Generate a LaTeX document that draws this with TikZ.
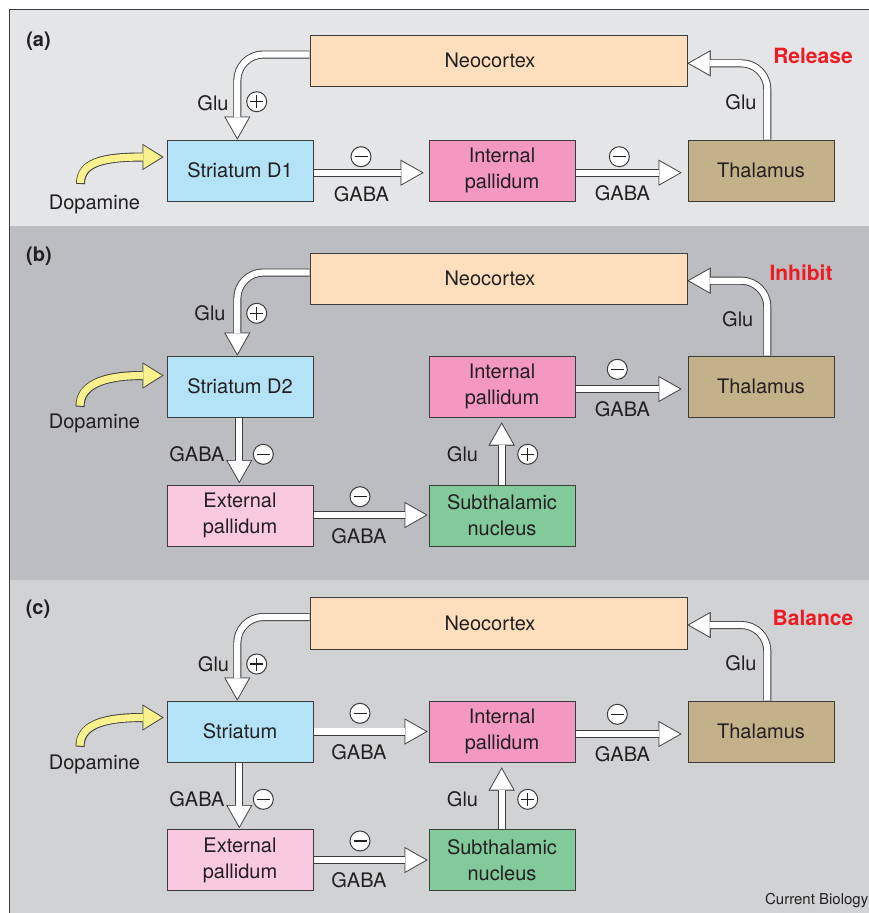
\documentclass[tikz,border=0pt]{standalone}
\usepackage{fontspec}
\setmainfont{TeX Gyre Heros}
\usetikzlibrary{arrows.meta}
\definecolor{txt}{HTML}{231F20}
\definecolor{boxc}{HTML}{3C3C3C}
\definecolor{redc}{HTML}{ED1C24}
\definecolor{bga}{HTML}{E4E5E7}
\definecolor{bgb}{HTML}{BCBDC0}
\definecolor{bgc}{HTML}{D1D2D4}
\definecolor{neoc}{HTML}{FDDFBD}
\definecolor{strc}{HTML}{B4E3F8}
\definecolor{ipc}{HTML}{F398C1}
\definecolor{thc}{HTML}{C3B18A}
\definecolor{epc}{HTML}{F8C9DF}
\definecolor{snc}{HTML}{82CA9C}
\definecolor{dopc}{HTML}{F9F18E}
\pgfdeclarelayer{bg}\pgfdeclarelayer{arr}\pgfsetlayers{bg,arr,main}
\tikzset{
 box/.style={draw=boxc, line width=1pt, minimum width=146pt, minimum height=61pt, inner sep=0pt, text=txt, font=\fontsize{20}{26}\selectfont, align=center},
 neobox/.style={box, fill=neoc, minimum width=377pt, minimum height=51pt},
 strbox/.style={box, fill=strc},
 ipbox/.style={box, fill=ipc},
 thbox/.style={box, fill=thc},
 epbox/.style={box, fill=epc},
 snbox/.style={box, fill=snc},
 lbl/.style={text=txt, font=\fontsize{20}{24}\selectfont, inner sep=0pt},
 tag/.style={text=redc, font=\fontsize{21}{24}\selectfont\bfseries, inner sep=0pt},
 plab/.style={text=txt, font=\fontsize{20}{24}\selectfont\bfseries, inner sep=0pt},
 sgn/.style={circle, draw=boxc, fill=white, line width=1pt, minimum size=20pt, inner sep=0pt},
 plus/.style={sgn, path picture={\draw[txt, line width=1.3pt]
   ([xshift=-6.5pt]path picture bounding box.center) -- ([xshift=6.5pt]path picture bounding box.center)
   ([yshift=-6.5pt]path picture bounding box.center) -- ([yshift=6.5pt]path picture bounding box.center);}},
 minus/.style={sgn, path picture={\draw[txt, line width=1.3pt]
   ([xshift=-6.5pt]path picture bounding box.center) -- ([xshift=6.5pt]path picture bounding box.center);}},
 fatout/.style={boxc, line width=8pt, rounded corners=26pt, -{Triangle[length=23pt,width=26pt,line width=0.01pt]}},
 fatin/.style={white, line width=6.2pt, rounded corners=26pt, -{Triangle[length=20.3pt,width=22.9pt,line width=0.01pt]}},
 dopout/.style={boxc, line width=9pt, -{Triangle[length=21pt,width=26pt,line width=0.01pt]}},
 dopin/.style={dopc, line width=7.2pt, shorten <=1pt, shorten >=1.83pt, -{Triangle[length=18.3pt,width=22.9pt,line width=0.01pt]}},
}
\newcommand{\fatarrow}[2][0]{%
  \draw[fatout, shorten >=#1pt] #2;
  \draw[fatin, shorten >=#1pt+1.83pt] #2;}
\newcommand{\dopaarrow}[1]{%
  \draw[dopout] #1;
  \draw[dopin] #1;}
\begin{document}
\begin{tikzpicture}[x=1pt,y=-1pt]
\useasboundingbox (0,0) rectangle (869,913);
\begin{pgfonlayer}{bg}
  \fill[white] (0,0) rectangle (869,913);
  \fill[bga] (9.5,9.5) rectangle (868.5,225.5);
  \fill[bgb] (9.5,225.5) rectangle (868.5,579.5);
  \fill[bgc] (9.5,579.5) rectangle (868.5,913);
  \draw[boxc, line width=1.5pt] (9.3,913) -- (9.3,9.3) -- (869,9.3);
\end{pgfonlayer}

% ---------------- panel (a)
\node[plab] (pa) at (38.5,41) {(a)};
\node[neobox] (neoA) at (498.5,60.5) {};
\node[lbl] (neoAt) at (490,60.5) {Neocortex};
\node[strbox] (strA) at (240,170.5) {Striatum D1};
\node[ipbox] (ipA) at (502,170.5) {Internal\\pallidum};
\node[thbox] (thA) at (761,170.5) {Thalamus};
\node[tag] (relA) at (813,56) {Release};
\node[lbl] (gluA1) at (213,103) {Glu};
\node[plus] (pA1) at (256.7,101.7) {};
\node[minus] (mA1) at (361,156.7) {};
\node[lbl] (gabaA1) at (361.5,194) {GABA};
\node[minus] (mA2) at (619.3,156.7) {};
\node[lbl] (gabaA2) at (622.5,193.3) {GABA};
\node[lbl] (gluA2) at (741,102.7) {Glu};
\node[lbl] (dopA) at (94.5,204) {Dopamine};
\coordinate (dtA) at (80.5,184);
\begin{pgfonlayer}{arr}
  \fatarrow{([yshift=6pt]neoA.west) -| ([xshift=-2.7pt]strA.north)}
  \fatarrow{([xshift=6.3pt]thA.north) |- ([yshift=-2.8pt]neoA.east)}
  \fatarrow[5]{([yshift=-2.2pt]strA.east) -- ([yshift=-2.2pt]ipA.west)}
  \fatarrow[6]{([yshift=-2.2pt]ipA.east) -- ([yshift=-2.2pt]thA.west)}
  \dopaarrow{(dtA) .. controls +(0,-21) and +(-62,0) .. ([xshift=-3pt,yshift=13.5pt]strA.west)}
\end{pgfonlayer}

% ---------------- panel (b)
\node[plab] (pb) at (39,256.7) {(b)};
\node[neobox] (neoB) at (498.5,278.5) {};
\node[lbl] (neoBt) at (490,278.5) {Neocortex};
\node[strbox] (strB) at (240,386.5) {Striatum D2};
\node[ipbox] (ipB) at (502,386.5) {Internal\\pallidum};
\node[thbox] (thB) at (761,386.5) {Thalamus};
\node[epbox] (epB) at (240,515.5) {External\\pallidum};
\node[snbox] (snB) at (502,515.5) {Subthalamic\\nucleus};
\node[tag] (inhB) at (801,272.7) {Inhibit};
\node[lbl] (gluB1) at (210,313.3) {Glu};
\node[plus] (pB1) at (256.7,313.3) {};
\node[lbl] (gabaB1) at (197,454.3) {GABA};
\node[minus] (mB1) at (263.3,454.3) {};
\node[minus] (mB2) at (360,496.7) {};
\node[lbl] (gabaB2) at (359,536.7) {GABA};
\node[lbl] (gluB2) at (462.5,454.3) {Glu};
\node[plus] (pB2) at (527.7,454.3) {};
\node[minus] (mB3) at (617.3,369.3) {};
\node[lbl] (gabaB3) at (622.5,409.3) {GABA};
\node[lbl] (gluB3) at (737.8,319) {Glu};
\node[lbl] (dopB) at (94.5,423.3) {Dopamine};
\coordinate (dtB) at (80,406.7);
\begin{pgfonlayer}{arr}
  \fatarrow{([yshift=6pt]neoB.west) -| ([xshift=-2.7pt]strB.north)}
  \fatarrow{([xshift=6.3pt]thB.north) |- ([yshift=-2.2pt]neoB.east)}
  \fatarrow[1.5]{([xshift=-0.7pt]strB.south) -- ([xshift=-0.7pt]epB.north)}
  \fatarrow[1]{([yshift=0.5pt]epB.east) -- ([yshift=0.5pt]snB.west)}
  \fatarrow[5]{([xshift=-0.3pt]snB.north) -- ([xshift=-0.3pt]ipB.south)}
  \fatarrow[6]{([yshift=-2.5pt]ipB.east) -- ([yshift=-2.5pt]thB.west)}
  \dopaarrow{(dtB) .. controls +(0,-21) and +(-62,0) .. ([xshift=-3pt,yshift=11pt]strB.west)}
\end{pgfonlayer}

% ---------------- panel (c)
\node[plab] (pc) at (38,609.3) {(c)};
\node[neobox, minimum height=52pt] (neoC) at (498.5,623) {};
\node[lbl] (neoCt) at (490,623) {Neocortex};
\node[strbox] (strC) at (240,731.5) {Striatum};
\node[ipbox] (ipC) at (502,731.5) {Internal\\pallidum};
\node[thbox] (thC) at (761,731.5) {Thalamus};
\node[epbox] (epC) at (240,860) {External\\pallidum};
\node[snbox] (snC) at (502,860) {Subthalamic\\nucleus};
\node[tag] (balC) at (813,617.7) {Balance};
\node[lbl] (gluC1) at (213.5,664) {Glu};
\node[plus] (pC1) at (256.7,664) {};
\node[minus] (mC1) at (360,713.3) {};
\node[lbl] (gabaC1) at (359,752.7) {GABA};
\node[lbl] (gabaC2) at (197,799.3) {GABA};
\node[minus] (mC2) at (263.3,799.3) {};
\node[minus] (mC3) at (360,841) {};
\node[lbl] (gabaC3) at (359,880) {GABA};
\node[lbl] (gluC2) at (462.5,799.3) {Glu};
\node[plus] (pC2) at (527.7,799.3) {};
\node[minus] (mC4) at (617.3,714.3) {};
\node[lbl] (gabaC4) at (622.5,754) {GABA};
\node[lbl] (gluC3) at (741,663.3) {Glu};
\node[lbl] (dopC) at (94.5,764) {Dopamine};
\node[text=txt, font=\fontsize{15}{18}\selectfont, inner sep=0pt, anchor=east] (cb) at (868.5,900.7) {Current Biology};
\coordinate (dtC) at (80,746.7);
\begin{pgfonlayer}{arr}
  \fatarrow{([yshift=6pt]neoC.west) -| ([xshift=-2.7pt]strC.north)}
  \fatarrow{([xshift=6.3pt]thC.north) |- ([yshift=-2pt]neoC.east)}
  \fatarrow[1]{(strC.east) -- (ipC.west)}
  \fatarrow[6]{([yshift=-2.5pt]ipC.east) -- ([yshift=-2.5pt]thC.west)}
  \fatarrow[1]{([xshift=-0.7pt]strC.south) -- ([xshift=-0.7pt]epC.north)}
  \fatarrow[1]{(epC.east) -- (snC.west)}
  \fatarrow[5]{([xshift=-0.3pt]snC.north) -- ([xshift=-0.3pt]ipC.south)}
  \dopaarrow{(dtC) .. controls +(0,-21) and +(-62,0) .. ([xshift=-3pt,yshift=14pt]strC.west)}
\end{pgfonlayer}
\end{tikzpicture}
\end{document}
